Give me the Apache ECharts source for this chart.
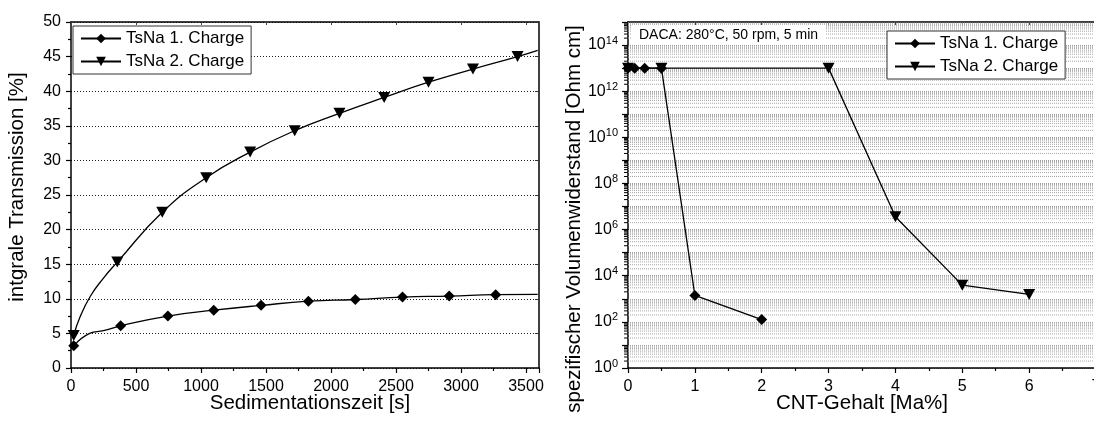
<!DOCTYPE html>
<html>
<head>
<meta charset="utf-8">
<script src="https://cdn.jsdelivr.net/npm/echarts@6/dist/echarts.min.js"></script>
<style>
  html, body { margin: 0; padding: 0; background: #fff; }
  #chart { width: 1094px; height: 421px; }
</style>
</head>
<body>
<div id="chart"></div>
<script>
// ---- Left panel: sedimentation (time [s] vs. integral transmission [%]) ----
const seriesNames = ['TsNa 1. Charge', 'TsNa 2. Charge'];

const sedTime1   = [21, 144, 250, 382, 745, 1098, 1462, 1826, 2187, 2550, 2909, 3267, 3590];
const sedTrans1  = [3.2, 5.0, 5.4, 6.1, 7.5, 8.35, 9.05, 9.65, 9.9, 10.25, 10.4, 10.6, 10.65];
const sedMarker1 = [1, 0, 0, 1, 1, 1, 1, 1, 1, 1, 1, 1, 0];

const sedTime2   = [21, 70, 150, 250, 356, 702, 1040, 1378, 1721, 2065, 2409, 2750, 3092, 3435, 3590];
const sedTrans2  = [4.7, 7.4, 10.4, 13.0, 15.3, 22.5, 27.5, 31.2, 34.3, 36.8, 39.1, 41.3, 43.2, 45.0, 45.9];
const sedMarker2 = [1, 0, 0, 0, 1, 1, 1, 1, 1, 1, 1, 1, 1, 1, 0];

// ---- Right panel: volume resistivity vs. CNT content ----
const cntContent1 = [0, 0.1, 0.25, 0.5, 1, 2];
const resistivity1 = [1e13, 1e13, 1e13, 1e13, 1.4e3, 1.26e2];

const cntContent2 = [0, 0.5, 3, 4, 5, 6];
const resistivity2 = [1e13, 1e13, 1e13, 3.6e6, 3.9e3, 1.55e3];

// Axis titles and the process note
const titleLeftX  = 'Sedimentationszeit [s]';
const titleLeftY  = 'intgrale Transmission [%]';
const titleRightX = 'CNT-Gehalt [Ma%]';
const titleRightY = 'spezifischer Volumenwiderstand [Ohm cm]';
const processNote = 'DACA: 280°C, 50 rpm, 5 min';

// decade minor lines (2..9 x 10^n) for the log axis
const logMinorValues = [];
for (let e = 0; e < 15; e++) {
  for (let k = 2; k <= 9; k++) logMinorValues.push(k * Math.pow(10, e));
}

const FONT = 'Liberation Sans, Arial, sans-serif';
const black = '#000';

function zip(xs, ys, flags) {
  return xs.map((x, i) => {
    const item = { value: [x, ys[i]] };
    if (flags && !flags[i]) item.symbol = 'none';
    return item;
  });
}

const axisLineStyle = { show: true, onZero: false, lineStyle: { color: black, width: 1.5 } };

function bottomAxis(grid, min, max, interval, showMax) {
  return {
    gridIndex: grid, type: 'value', position: 'bottom', min, max, interval,
    axisLine: axisLineStyle,
    axisTick: { show: true, inside: false, length: 5, lineStyle: { color: black, width: 1.2 } },
    minorTick: { show: true, splitNumber: 2, length: 3, lineStyle: { color: black, width: 1.2 } },
    axisLabel: { fontFamily: FONT, fontSize: 16, color: black, margin: 11, showMaxLabel: showMax,
                 formatter: v => String(v) },
    splitLine: { show: false }
  };
}

function topAxis(grid, min, max, interval) {
  return {
    gridIndex: grid, type: 'value', position: 'top', min, max, interval,
    axisLine: axisLineStyle,
    axisTick: { show: true, inside: true, length: 3, lineStyle: { color: '#444', width: 1 } },
    minorTick: { show: false },
    axisLabel: { show: false },
    splitLine: { show: false }
  };
}

function legendAt(left, top) {
  return {
    data: seriesNames, orient: 'vertical', left, top,
    padding: [3, 7, 3, 7], itemGap: 4, itemWidth: 40, itemHeight: 12,
    backgroundColor: '#fff', borderColor: '#333', borderWidth: 1,
    textStyle: { fontFamily: FONT, fontSize: 17, color: black, lineHeight: 19 },
    selectedMode: false
  };
}

function titleText(text, x, y, vertical) {
  return {
    type: 'text', x, y, rotation: vertical ? Math.PI / 2 : 0, z: 50, silent: true,
    style: { text, font: '20.5px ' + FONT, fill: black, align: 'center', verticalAlign: 'middle',
             textAlign: 'center', textVerticalAlign: 'middle' }
  };
}

const option = {
  animation: false,
  backgroundColor: '#fff',
  textStyle: { fontFamily: FONT },
  grid: [
    { left: 71, top: 22, right: 555, bottom: 53, outerBoundsMode: 'none', containLabel: false },
    { left: 628, top: 22, right: -2, bottom: 53, outerBoundsMode: 'none', containLabel: false }
  ],
  legend: [legendAt(73, 26), legendAt(887, 31)],
  xAxis: [
    bottomAxis(0, 0, 3600, 500, false),
    topAxis(0, 0, 3600, 500),
    bottomAxis(1, 0, 7, 1, true),
    topAxis(1, 0, 7, 1)
  ],
  yAxis: [
    {
      gridIndex: 0, type: 'value', min: 0, max: 50, interval: 5,
      axisLine: axisLineStyle,
      axisTick: { show: true, length: 5, lineStyle: { color: black, width: 1.2 } },
      minorTick: { show: true, splitNumber: 2, length: 3, lineStyle: { color: black, width: 1.2 } },
      axisLabel: { fontFamily: FONT, fontSize: 16, color: black, margin: 10 },
      splitLine: { show: true, lineStyle: { color: '#222', width: 1, type: [1, 2] } }
    },
    {
      gridIndex: 0, type: 'value', position: 'right', min: 0, max: 50, interval: 5,
      axisLine: axisLineStyle,
      axisTick: { show: true, inside: true, length: 4, lineStyle: { color: '#333', width: 1 } },
      minorTick: { show: false },
      axisLabel: { show: false },
      splitLine: { show: false }
    },
    {
      gridIndex: 1, type: 'log', logBase: 10, min: 1, max: 1e15, interval: 1,
      axisLine: axisLineStyle,
      axisTick: { show: true, length: 6, lineStyle: { color: black, width: 1.2 } },
      axisLabel: {
        fontFamily: FONT, fontSize: 16, color: black, margin: 10,
        formatter: v => {
          const e = Math.round(Math.log10(v));
          return e % 2 === 0 ? '10{s|' + e + '}' : '';
        },
        rich: { s: { fontFamily: FONT, fontSize: 11, color: black, padding: [0, 0, 9, 0] } }
      },
      splitLine: { show: true, lineStyle: { color: '#9a9a9a', width: 1, type: [1, 1] } }
    }
  ],
  graphic: [
    {
      type: 'text', left: 632, top: 25, z: 50,
      style: {
        text: processNote, font: '14px ' + FONT, fill: black,
        backgroundColor: '#fff', padding: [3, 7, 3, 7]
      }
    },
    titleText(titleLeftX, 310, 403, false),
    titleText(titleLeftY, 17, 187, true),
    titleText(titleRightX, 862, 403, false),
    titleText(titleRightY, 574, 219, true)
  ],
  series: [
    // log-axis minor grid lines and ticks
    {
      type: 'custom', xAxisIndex: 2, yAxisIndex: 2, silent: true, z: 1,
      data: logMinorValues.map(v => [0, v]),
      encode: { x: 0, y: 1 },
      renderItem: (params, api) => {
        const v = api.value(1);
        const p0 = api.coord([0, v]);
        const p1 = api.coord([7, v]);
        return {
          type: 'group',
          children: [
            { type: 'line', shape: { x1: p0[0], y1: p0[1], x2: p1[0], y2: p1[1] },
              style: { stroke: '#a6a6a6', lineWidth: 1, lineDash: [1, 1] } },
            { type: 'line', shape: { x1: p0[0] - 4, y1: p0[1], x2: p0[0], y2: p0[1] },
              style: { stroke: black, lineWidth: 1 } }
          ]
        };
      }
    },
    {
      name: seriesNames[0], type: 'line', xAxisIndex: 0, yAxisIndex: 0,
      data: zip(sedTime1, sedTrans1, sedMarker1),
      smooth: 0.5,
      symbol: 'diamond', symbolSize: 11,
      lineStyle: { color: black, width: 1.3 }, itemStyle: { color: black }, z: 5
    },
    {
      name: seriesNames[1], type: 'line', xAxisIndex: 0, yAxisIndex: 0,
      data: zip(sedTime2, sedTrans2, sedMarker2),
      smooth: 0.5,
      symbol: 'triangle', symbolRotate: 180, symbolSize: [12, 11],
      lineStyle: { color: black, width: 1.3 }, itemStyle: { color: black }, z: 5
    },
    {
      name: seriesNames[1], type: 'line', xAxisIndex: 2, yAxisIndex: 2,
      data: zip(cntContent2, resistivity2),
      symbol: 'triangle', symbolRotate: 180, symbolSize: [12, 11],
      lineStyle: { color: black, width: 1.3 }, itemStyle: { color: black }, z: 5
    },
    {
      name: seriesNames[0], type: 'line', xAxisIndex: 2, yAxisIndex: 2,
      data: zip(cntContent1, resistivity1),
      symbol: 'diamond', symbolSize: 11,
      lineStyle: { color: black, width: 1.3 }, itemStyle: { color: black }, z: 6
    }
  ]
};

const chart = echarts.init(document.getElementById('chart'), null, { renderer: 'canvas' });
chart.setOption(option);
</script>
</body>
</html>
